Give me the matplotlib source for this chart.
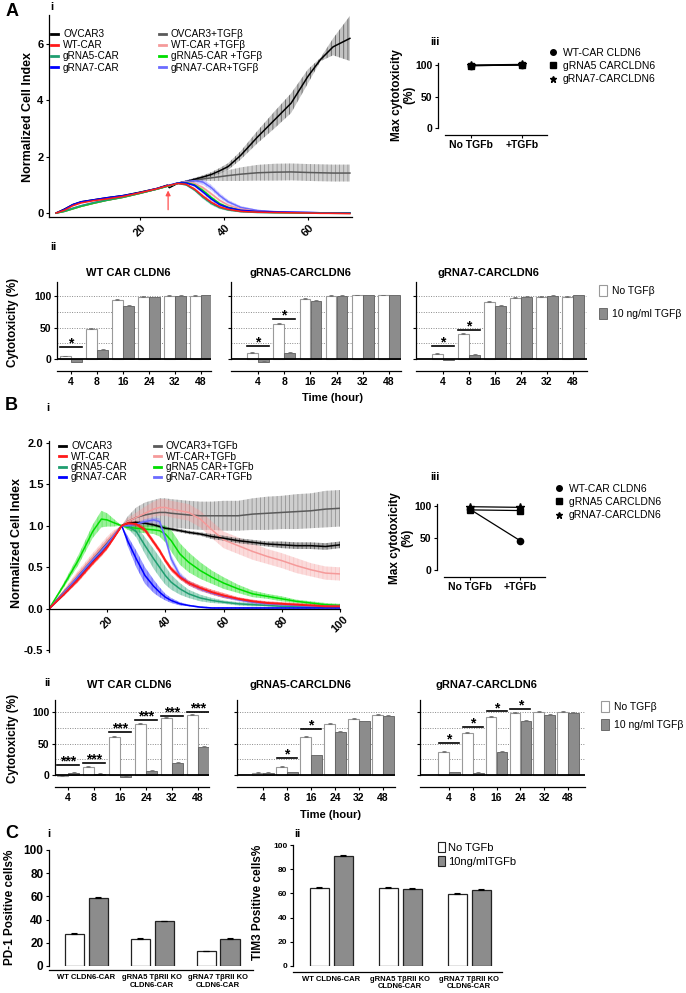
#!/usr/bin/env python3
"""CLDN6 CAR / TGFb cytotoxicity figure (panels A-C)."""

import matplotlib
matplotlib.use("Agg")
import matplotlib.pyplot as plt
from matplotlib.lines import Line2D
from matplotlib.patches import Patch
import numpy as np

plt.rcParams["font.family"] = ["Liberation Sans", "DejaVu Sans"]
plt.rcParams["hatch.linewidth"] = 0.5

W, H = 686, 993

# ---------------- A i : real-time cell index ----------------
a_time = [0, 2, 4, 6, 9, 12, 16, 20, 24, 26.5, 27, 29, 31, 33, 35, 37, 39, 41,
          44, 48, 52, 56, 60, 63, 66, 70]
a_ovcar3 = [0, 0.14, 0.3, 0.4, 0.47, 0.54, 0.62, 0.74, 0.87, 0.99, 0.9, 1.06,
            1.12, 1.2, 1.28, 1.37, 1.5, 1.65, 2.05, 2.7, 3.3, 3.9, 4.85, 5.45,
            5.9, 6.2]
a_ovcar3_err = [0, 0.01, 0.02, 0.02, 0.02, 0.02, 0.02, 0.02, 0.02, 0.02, 0.02,
                0.03, 0.04, 0.05, 0.06, 0.08, 0.1, 0.12, 0.15, 0.22, 0.3, 0.35,
                0.25, 0.06, 0.3, 0.8]
a_ovcar3_tgf = [0, 0.06, 0.15, 0.24, 0.35, 0.45, 0.56, 0.7, 0.85, 0.95, 0.97,
                1.05, 1.1, 1.16, 1.21, 1.25, 1.29, 1.33, 1.38, 1.43, 1.45, 1.46,
                1.44, 1.43, 1.42, 1.42]
a_ovcar3_tgf_err = [0, 0.01, 0.01, 0.01, 0.01, 0.01, 0.01, 0.01, 0.01, 0.01,
                    0.01, 0.02, 0.04, 0.06, 0.08, 0.11, 0.15, 0.19, 0.24, 0.28,
                    0.3, 0.3, 0.3, 0.3, 0.3, 0.3]
a_wt = [0, 0.1, 0.26, 0.36, 0.44, 0.5, 0.59, 0.72, 0.86, 0.97, 0.98, 1.05, 1.02,
        0.85, 0.6, 0.38, 0.22, 0.13, 0.06, 0.03, 0.02, 0.01, 0.0, -0.01, -0.01,
        -0.02]
a_g5 = [0, 0.07, 0.17, 0.26, 0.37, 0.46, 0.57, 0.71, 0.85, 0.96, 0.97, 1.05, 1.0,
        0.82, 0.56, 0.34, 0.19, 0.11, 0.05, 0.02, 0.01, 0.01, 0.0, 0.0, -0.01,
        -0.01]
a_g7 = [0, 0.13, 0.3, 0.4, 0.47, 0.54, 0.62, 0.73, 0.87, 0.98, 0.99, 1.07, 1.07,
        0.98, 0.75, 0.5, 0.3, 0.19, 0.1, 0.06, 0.04, 0.03, 0.02, 0.01, 0.0, 0.0]
a_wt_tgf = [0, 0.06, 0.15, 0.24, 0.35, 0.45, 0.56, 0.7, 0.85, 0.95, 0.97, 1.06,
            1.1, 1.05, 0.9, 0.68, 0.45, 0.28, 0.14, 0.06, 0.03, 0.02, 0.01, 0.0,
            0.0, 0.0]
a_g5_tgf = [0, 0.06, 0.15, 0.24, 0.35, 0.45, 0.56, 0.7, 0.85, 0.95, 0.97, 1.06,
            1.08, 1.0, 0.8, 0.55, 0.33, 0.2, 0.09, 0.04, 0.02, 0.01, 0.0, 0.0,
            0.0, 0.0]
a_g7_tgf = [0, 0.07, 0.17, 0.26, 0.37, 0.46, 0.57, 0.71, 0.85, 0.96, 0.97, 1.06,
            1.12, 1.15, 1.1, 0.9, 0.62, 0.4, 0.2, 0.09, 0.05, 0.03, 0.02, 0.01,
            0.01, 0.0]
a_car_err = [0, 0.01, 0.01, 0.01, 0.01, 0.01, 0.01, 0.01, 0.01, 0.01, 0.01, 0.02,
             0.03, 0.05, 0.06, 0.06, 0.05, 0.04, 0.03, 0.02, 0.01, 0.01, 0.01,
             0.01, 0.01, 0.01]
a_g7_tgf_err = [0, 0.01, 0.01, 0.01, 0.01, 0.01, 0.01, 0.01, 0.01, 0.01, 0.01,
                0.02, 0.05, 0.08, 0.1, 0.1, 0.09, 0.07, 0.05, 0.03, 0.02, 0.01,
                0.01, 0.01, 0.01, 0.01]
a_arrow_time = 26.7

# ---------------- B i ----------------
b_time = [0, 5, 10, 15, 18, 20, 22, 25, 27, 30, 33, 36, 38, 40, 42, 45, 48, 52,
          56, 60, 65, 70, 75, 80, 85, 90, 95, 100]
b_ovcar3 = [0, 0.19, 0.38, 0.57, 0.68, 0.76, 0.85, 1.0, 1.03, 1.04, 1.03, 1.01,
            0.99, 0.97, 0.96, 0.94, 0.92, 0.9, 0.87, 0.85, 0.82, 0.8, 0.78, 0.77,
            0.76, 0.76, 0.75, 0.77]
b_ovcar3_err = [0, 0.01, 0.01, 0.01, 0.01, 0.01, 0.01, 0.01, 0.01, 0.02, 0.02,
                0.02, 0.02, 0.02, 0.02, 0.02, 0.02, 0.02, 0.03, 0.03, 0.03, 0.03,
                0.03, 0.04, 0.04, 0.04, 0.04, 0.04]
b_ovcar3_tgf = [0, 0.2, 0.4, 0.6, 0.72, 0.8, 0.88, 1.0, 1.05, 1.1, 1.13, 1.15,
                1.16, 1.16, 1.15, 1.14, 1.13, 1.12, 1.12, 1.12, 1.12, 1.14, 1.15,
                1.16, 1.17, 1.18, 1.2, 1.21]
b_ovcar3_tgf_err = [0, 0.02, 0.03, 0.04, 0.04, 0.04, 0.03, 0.0, 0.06, 0.12, 0.15,
                    0.16, 0.17, 0.17, 0.17, 0.17, 0.17, 0.17, 0.17, 0.18, 0.18,
                    0.19, 0.2, 0.2, 0.21, 0.21, 0.22, 0.22]
b_wt = [0, 0.17, 0.35, 0.55, 0.66, 0.74, 0.84, 1.0, 1.03, 1.02, 0.95, 0.8, 0.7,
        0.58, 0.48, 0.38, 0.31, 0.25, 0.2, 0.16, 0.12, 0.09, 0.07, 0.06, 0.05,
        0.04, 0.03, 0.03]
b_wt_err = [0, 0.02, 0.03, 0.03, 0.03, 0.03, 0.02, 0.0, 0.02, 0.03, 0.03, 0.03,
            0.03, 0.03, 0.03, 0.03, 0.03, 0.03, 0.03, 0.03, 0.02, 0.02, 0.02,
            0.02, 0.02, 0.02, 0.02, 0.02]
b_wt_tgf = [0, 0.2, 0.42, 0.62, 0.74, 0.82, 0.9, 1.0, 1.05, 1.1, 1.15, 1.2, 1.22,
            1.22, 1.2, 1.18, 1.16, 1.08, 0.95, 0.83, 0.76, 0.69, 0.63, 0.58,
            0.52, 0.47, 0.43, 0.42]
b_wt_tgf_err = [0, 0.03, 0.04, 0.05, 0.05, 0.05, 0.04, 0.0, 0.04, 0.06, 0.08,
                0.09, 0.1, 0.1, 0.1, 0.1, 0.1, 0.1, 0.1, 0.1, 0.1, 0.1, 0.09,
                0.09, 0.09, 0.08, 0.08, 0.08]
b_g5 = [0, 0.18, 0.37, 0.57, 0.68, 0.76, 0.86, 1.0, 1.0, 0.93, 0.76, 0.6, 0.5,
        0.4, 0.32, 0.24, 0.18, 0.13, 0.1, 0.08, 0.06, 0.05, 0.04, 0.03, 0.03,
        0.02, 0.02, 0.02]
b_g5_err = [0, 0.02, 0.02, 0.02, 0.02, 0.02, 0.02, 0.0, 0.03, 0.07, 0.1, 0.12,
            0.12, 0.11, 0.09, 0.07, 0.05, 0.04, 0.03, 0.02, 0.02, 0.02, 0.01,
            0.01, 0.01, 0.01, 0.01, 0.01]
b_g7 = [0, 0.17, 0.36, 0.56, 0.67, 0.75, 0.85, 1.0, 0.82, 0.6, 0.4, 0.27, 0.2,
        0.14, 0.1, 0.06, 0.04, 0.02, 0.01, 0.01, 0.01, 0.01, 0.01, 0.01, 0.01,
        0.01, 0.01, 0.01]
b_g7_err = [0, 0.01, 0.01, 0.01, 0.01, 0.01, 0.01, 0.0, 0.06, 0.1, 0.1, 0.08,
            0.06, 0.04, 0.03, 0.02, 0.01, 0.01, 0.01, 0.01, 0.01, 0.01, 0.01,
            0.01, 0.01, 0.01, 0.01, 0.01]
b_g5_tgf = [0, 0.28, 0.58, 0.93, 1.08, 1.07, 1.04, 1.0, 0.98, 0.97, 0.96, 0.95,
            0.94, 0.9, 0.82, 0.66, 0.56, 0.46, 0.38, 0.31, 0.24, 0.18, 0.15,
            0.12, 0.09, 0.07, 0.05, 0.04]
b_g5_tgf_err = [0, 0.03, 0.06, 0.08, 0.1, 0.08, 0.05, 0.0, 0.03, 0.05, 0.05,
                0.05, 0.07, 0.1, 0.13, 0.13, 0.12, 0.1, 0.08, 0.07, 0.05, 0.04,
                0.03, 0.03, 0.02, 0.02, 0.02, 0.02]
b_g7_tgf = [0, 0.19, 0.39, 0.59, 0.7, 0.78, 0.87, 1.0, 1.0, 1.02, 1.05, 1.07,
            1.05, 0.85, 0.6, 0.4, 0.31, 0.24, 0.19, 0.15, 0.11, 0.08, 0.06, 0.05,
            0.04, 0.03, 0.03, 0.03]
b_g7_tgf_err = [0, 0.02, 0.02, 0.02, 0.02, 0.02, 0.02, 0.0, 0.02, 0.02, 0.03,
                0.03, 0.04, 0.05, 0.05, 0.04, 0.03, 0.03, 0.02, 0.02, 0.02, 0.02,
                0.02, 0.02, 0.02, 0.02, 0.02, 0.02]

# ---------------- iii : max cytotoxicity ----------------
max_cond = ["No TGFb", "+TGFb"]
a3_wt = [100, 101]
a3_g5 = [99, 100]
a3_g7 = [99, 100]
b3_wt = [95, 46]
b3_g5 = [94, 93]
b3_g7 = [99, 98]
max_labels = ["WT-CAR CLDN6", "gRNA5 CARCLDN6", "gRNA7-CARCLDN6"]

# ---------------- ii : cytotoxicity over time ----------------
hours = ["4", "8", "16", "24", "32", "48"]
cyto_titles = ["WT CAR CLDN6", "gRNA5-CARCLDN6", "gRNA7-CARCLDN6"]
a2_white = [[4, 48, 94, 99, 100, 100],
            [10, 55, 95, 100, 101, 101],
            [8, 39, 91, 97, 99, 99]]
a2_grey = [[-5, 15, 84, 98, 100, 101],
           [-4, 10, 92, 100, 101, 101],
           [-1, 6, 84, 99, 100, 101]]
a2_err = [1.0, 1.5, 1.5, 1.0, 1.0, 1.0]
a2_stars = [[(0, 19, "*")],
            [(0, 21, "*"), (1, 63, "*")],
            [(0, 21, "*"), (1, 46, "*")]]
b2_white = [[-1, 13, 61, 81, 90, 95],
            [3, 13, 60, 81, 89, 96],
            [37, 66, 92, 98, 100, 100]]
b2_grey = [[3, 2, -3, 6, 19, 45],
           [3, 4, 31, 68, 85, 93],
           [4, 3, 37, 86, 95, 98]]
b2_err = [1.5, 1.5, 1.5, 1.5, 1.5, 1.5]
b2_stars = [[(0, 16, "***"), (1, 19, "***"), (2, 68, "***"), (3, 87, "***"),
             (4, 94, "***"), (5, 100, "***")],
            [(1, 27, "*"), (2, 73, "*")],
            [(0, 51, "*"), (1, 76, "*"), (2, 101, "*"), (3, 105, "*")]]
tgf_labels = ["No TGF\u03b2", "10 ng/ml TGF\u03b2"]

# ---------------- C : exhaustion markers ----------------
c_groups = ["WT CLDN6-CAR", "gRNA5 T\u03b2RII KO\nCLDN6-CAR",
            "gRNA7 T\u03b2RII KO\nCLDN6-CAR"]
c1_white = [27.5, 23.2, 12.9]
c1_grey = [58.3, 38.6, 23.0]
c1_white_err = [0.8, 0.6, 0.4]
c1_grey_err = [0.8, 0.6, 0.8]
c2_white = [64.5, 64.5, 59.5]
c2_grey = [91.0, 63.5, 62.8]
c2_white_err = [0.6, 0.8, 0.5]
c2_grey_err = [1.0, 1.0, 0.5]
c_legend = ["No TGFb", "10ng/mlTGFb"]

WHITE_EDGE = "#9a9a9a"
GREY_FACE = "#8c8c8c"
GREY_EDGE = "#5e5e5e"

fig = plt.figure(figsize=(W / 100, H / 100), dpi=100)


def add_ax(left, top, right, bottom):
    return fig.add_axes([left / W, 1 - bottom / H, (right - left) / W,
                         (bottom - top) / H])


def ftext(x, y, s, size=8, weight="bold", **kw):
    kw.setdefault("ha", "left")
    kw.setdefault("va", "center")
    fig.text(x / W, 1 - y / H, s, fontsize=size, fontweight=weight, **kw)


def clean(ax):
    ax.spines["top"].set_visible(False)
    ax.spines["right"].set_visible(False)
    for s in ("left", "bottom"):
        ax.spines[s].set_linewidth(0.9)
    ax.tick_params(length=2.5, width=0.8, pad=1.5)


def series(ax, t, mean, err, color, band, lw=1.1, alpha=0.45):
    m = np.asarray(mean, float)
    e = np.asarray(err, float)
    ax.fill_between(t, m - e, m + e, facecolor=band, edgecolor=color,
                    hatch="||||", linewidth=0, alpha=alpha)
    ax.plot(t, m, color=color, lw=lw)
    return Line2D([], [], color=color, lw=2)


TEAL = "#1f9e70"
GREEN = "#00dd00"
BLUE = "#0000ff"
LBLUE = "#6b6bff"
RED = "#ff1a1a"
PINK = "#f59a9a"
GRAY = "#5a5a5a"

# ================= A i =================
ax = add_ax(49, 15, 352, 217)
clean(ax)
ax.set_xlim(-1.67, 70.5)
ax.set_ylim(-0.14, 7.03)
h_ovt = series(ax, a_time, a_ovcar3_tgf, a_ovcar3_tgf_err, GRAY, "#b0b0b0", alpha=0.6)
h_ov = series(ax, a_time, a_ovcar3, a_ovcar3_err, "black", "#9a9a9a", alpha=0.6)
h_g7t = series(ax, a_time, a_g7_tgf, a_g7_tgf_err, LBLUE, LBLUE, alpha=0.3)
h_wtt = series(ax, a_time, a_wt_tgf, a_car_err, PINK, PINK, alpha=0.3)
h_g5t = series(ax, a_time, a_g5_tgf, a_car_err, GREEN, GREEN, alpha=0.3)
h_g7 = series(ax, a_time, a_g7, a_car_err, BLUE, BLUE, alpha=0.3)
h_g5 = series(ax, a_time, a_g5, a_car_err, TEAL, TEAL, alpha=0.3)
h_wt = series(ax, a_time, a_wt, a_car_err, RED, RED, alpha=0.3)
ax.annotate("", xy=(a_arrow_time, 0.9), xytext=(a_arrow_time, 0.02),
            arrowprops=dict(arrowstyle="-|>", color="#ff5050", lw=0.9,
                            mutation_scale=7))
ax.set_xticks([20, 40, 60], ["20", "40", "60"], rotation=45, fontsize=8,
              fontweight="bold")
ax.set_yticks([0, 2, 4, 6], ["0", "2", "4", "6"], fontsize=8, fontweight="bold")
ax.legend([h_ov, h_wt, h_g5, h_g7, h_ovt, h_wtt, h_g5t, h_g7t],
          ["OVCAR3", "WT-CAR", "gRNA5-CAR", "gRNA7-CAR", "OVCAR3+TGF\u03b2",
           "WT-CAR +TGF\u03b2", "gRNA5-CAR +TGF\u03b2", "gRNA7-CAR+TGF\u03b2"],
          ncol=2, loc="upper left", bbox_to_anchor=(51 / W, 1 - 29 / H),
          bbox_transform=fig.transFigure, frameon=False, fontsize=7.2,
          handlelength=0.7, handletextpad=0.5, columnspacing=3.9,
          labelspacing=0.12, borderpad=0, borderaxespad=0)
ftext(28, 117, "Normalized Cell Index", size=9, rotation=90, ha="center")

# ================= B i =================
ax = add_ax(49, 441, 340, 652)
clean(ax)
ax.set_xlim(0, 100)
ax.set_ylim(-0.52, 2.02)
ax.spines["bottom"].set_position(("data", 0))
h_ovt = series(ax, b_time, b_ovcar3_tgf, b_ovcar3_tgf_err, GRAY, "#b0b0b0", alpha=0.6)
h_wtt = series(ax, b_time, b_wt_tgf, b_wt_tgf_err, PINK, PINK, alpha=0.35)
h_ov = series(ax, b_time, b_ovcar3, b_ovcar3_err, "black", "#777777", alpha=0.6)
h_g5t = series(ax, b_time, b_g5_tgf, b_g5_tgf_err, GREEN, GREEN, alpha=0.4)
h_g5 = series(ax, b_time, b_g5, b_g5_err, TEAL, TEAL, alpha=0.4)
h_g7 = series(ax, b_time, b_g7, b_g7_err, BLUE, BLUE, alpha=0.4)
h_g7t = series(ax, b_time, b_g7_tgf, b_g7_tgf_err, LBLUE, LBLUE, alpha=0.3)
h_wt = series(ax, b_time, b_wt, b_wt_err, RED, RED, lw=1.4, alpha=0.45)
ax.set_xticks([20, 40, 60, 80, 100], ["20", "40", "60", "80", "100"],
              rotation=45, fontsize=8, fontweight="bold")
yt = [-0.5, 0.0, 0.5, 1.0, 1.5, 2.0]
ax.set_yticks(yt, [f"{v:.1f}" for v in yt], fontsize=8, fontweight="bold")
ax.legend([h_ov, h_wt, h_g5, h_g7, h_ovt, h_wtt, h_g5t, h_g7t],
          ["OVCAR3", "WT-CAR", "gRNA5-CAR", "gRNA7-CAR", "OVCAR3+TGFb",
           "WT-CAR+TGFb", "gRNA5 CAR+TGFb", "gRNa7-CAR+TGFb"],
          ncol=2, loc="upper left", bbox_to_anchor=(59 / W, 1 - 441 / H),
          bbox_transform=fig.transFigure, frameon=False, fontsize=7.2,
          handlelength=0.7, handletextpad=0.5, columnspacing=2.6,
          labelspacing=0.05, borderpad=0, borderaxespad=0)
ftext(17, 543, "Normalized Cell Index", size=9, rotation=90, ha="center")


# ================= iii panels =================
def max_panel(left, top, right, zero, c0, c1, vals, leg_xy):
    scale = (zero - top) / 104.8
    ax = add_ax(left, top, right, zero)
    clean(ax)
    step = c1 - c0
    ax.set_xlim((left - c0) / step, (right - c0) / step)
    ax.set_ylim(0, (zero - top) / scale)
    handles = []
    for v, m in zip(vals, ["o", "s", "*"]):
        ax.plot([0, 1], v, color="black", lw=0.9, marker=m,
                ms=6 if m == "*" else 4.5, clip_on=False)
        handles.append(Line2D([], [], color="black", marker=m, ls="none",
                              ms=5 if m == "*" else 4))
    ax.spines["left"].set_bounds(0, 104)
    ax.spines["bottom"].set_position(("outward", 5))
    ax.spines["bottom"].set_bounds((left + 7 - c0) / step, (right - c0) / step)
    ax.set_yticks([0, 50, 100], ["0", "50", "100"], fontsize=7.5,
                  fontweight="bold")
    ax.set_xticks([0, 1], max_cond, fontsize=7.5, fontweight="bold")
    fig.legend(handles, max_labels, loc="upper left",
               bbox_to_anchor=(leg_xy[0] / W, 1 - leg_xy[1] / H),
               frameon=False, fontsize=7.5, handlelength=0.8,
               handletextpad=0.5, labelspacing=0.3, borderpad=0,
               borderaxespad=0)


max_panel(438, 62, 547, 128, 471, 522, [a3_g7, a3_g5, a3_wt], (549, 48))
ftext(403, 95, "Max cytotoxicity\n(%)", size=8.5, rotation=90, ha="center",
      multialignment="center", linespacing=1.1)
max_panel(437, 503, 545, 570, 470, 520, [b3_wt, b3_g5, b3_g7], (555, 484))
ftext(401, 538, "Max cytotoxicity\n(%)", size=8.5, rotation=90, ha="center",
      multialignment="center", linespacing=1.1)


# ================= ii panels =================
def cyto_panel(left, top, right, zero, c0, step, white, grey, err, stars,
               show_y):
    scale = 0.63
    bottom = zero + 8
    ax = add_ax(left, top, right, bottom)
    clean(ax)
    idx = np.arange(len(white))
    ax.set_xlim((left - c0) / step, (right - c0) / step)
    ymax = (zero - top) / scale
    ax.set_ylim(-(bottom - zero) / scale, ymax)
    bw = 10.5 / step
    for lv in (25, 50, 75, 100):
        ax.axhline(lv, color="#8a8a8a", lw=0.7, ls=(0, (1, 1.5)), zorder=0)
    ekw = dict(ecolor="#707070", elinewidth=0.6, capsize=1.5, capthick=0.6)
    zeros = np.zeros(len(err))
    ax.bar(idx - bw / 2 - 0.01, white, bw, color="white", edgecolor=WHITE_EDGE,
           lw=0.8, zorder=2, yerr=[zeros, err], error_kw=ekw)
    ax.bar(idx + bw / 2 + 0.01, grey, bw, color=GREY_FACE, edgecolor=GREY_EDGE,
           lw=0.6, zorder=2, yerr=[zeros, err], error_kw=ekw)
    ax.axhline(0, color="black", lw=1.3, zorder=3)
    for k, h, s in stars:
        ax.plot([k - 0.42, k + 0.42], [h, h], color="black", lw=1.2, zorder=4)
        ax.text(k, h - 1, s, ha="center", va="baseline", fontsize=10,
                fontweight="bold")
    ax.spines["left"].set_bounds(0, ymax)
    ax.spines["bottom"].set_position(("outward", 3))
    ax.set_yticks([0, 50, 100], ["0", "50", "100"] if show_y else ["", "", ""],
                  fontsize=7.5, fontweight="bold")
    ax.set_xticks(idx, hours, fontsize=7.5, fontweight="bold")


a2_geom = [(57, 211, 71, 26.0), (231, 401, 258, 26.2), (416, 587, 443, 26.0)]
for i, (l, r, c0, st) in enumerate(a2_geom):
    cyto_panel(l, 282, r, 359, c0, st, a2_white[i], a2_grey[i], a2_err,
               a2_stars[i], i == 0)
for x, s in zip([128, 300, 488], cyto_titles):
    ftext(x, 273, s, size=8, ha="center")
ftext(13, 322, "Cytotoxicity (%)", size=8.5, rotation=90, ha="center")
ftext(333, 398, "Time (hour)", size=8, ha="center")

b2_geom = [(55, 209, 68, 26.0), (237, 395, 263, 24.0), (420, 585, 449, 23.8)]
for i, (l, r, c0, st) in enumerate(b2_geom):
    cyto_panel(l, 700, r, 775, c0, st, b2_white[i], b2_grey[i], b2_err,
               b2_stars[i], i == 0)
for x, s in zip([129, 300, 486], cyto_titles):
    ftext(x, 685, s, size=8, ha="center")
ftext(13, 738, "Cytotoxicity (%)", size=8.5, rotation=90, ha="center")
ftext(331, 815, "Time (hour)", size=8, ha="center")

bar_handles = [Patch(facecolor="white", edgecolor=WHITE_EDGE, lw=0.8),
               Patch(facecolor=GREY_FACE, edgecolor=GREY_EDGE, lw=0.6)]
fig.legend(bar_handles, tgf_labels, loc="upper left",
           bbox_to_anchor=(599 / W, 1 - 285 / H), frameon=False, fontsize=7.5,
           handlelength=0.8, handleheight=1.3, handletextpad=0.4,
           labelspacing=1.1, borderpad=0, borderaxespad=0)
fig.legend(bar_handles, tgf_labels, loc="upper left",
           bbox_to_anchor=(601 / W, 1 - 701 / H), frameon=False, fontsize=7.5,
           handlelength=0.8, handleheight=1.3, handletextpad=0.4,
           labelspacing=0.6, borderpad=0, borderaxespad=0)


# ================= C panels =================
def marker_panel(left, top, right, zero, c0, step, white, grey, werr, gerr,
                 scale, ytick_size, xaxis_gap):
    ax = add_ax(left, top, right, zero)
    clean(ax)
    idx = np.arange(len(white))
    ax.set_xlim((left - c0) / step, (right - c0) / step)
    ax.set_ylim(0, (zero - top) / scale)
    bw = 19 / step
    off = 12 / step
    ekw = dict(ecolor="black", elinewidth=0.8, capsize=2, capthick=0.8)
    z = np.zeros(len(white))
    ax.bar(idx - off, white, bw, color="white", edgecolor="#222222", lw=0.9,
           yerr=[z, werr], error_kw=ekw)
    ax.bar(idx + off, grey, bw, color=GREY_FACE, edgecolor="#222222", lw=0.9,
           yerr=[z, gerr], error_kw=ekw)
    ax.spines["left"].set_bounds(0, 100)
    ax.spines["bottom"].set_position(("outward", xaxis_gap))
    ax.set_yticks(range(0, 101, 20), [str(v) for v in range(0, 101, 20)],
                  fontsize=ytick_size, fontweight="bold")
    ax.set_xticks(idx, c_groups, fontsize=5.5, fontweight="bold",
                  linespacing=1.05)
    ax.tick_params(axis="x", length=0, pad=3)
    return ax


marker_panel(49, 848, 253, 966, 86, 66, c1_white, c1_grey, c1_white_err,
             c1_grey_err, 1.16, 8.5, 3)
ftext(10, 907, "PD-1 Positive cells%", size=8.5, rotation=90, ha="center")
marker_panel(293, 843, 502, 966, 331, 69, c2_white, c2_grey, c2_white_err,
             c2_grey_err, 1.21, 6, 4.3)
ftext(258, 902, "TIM3 Positive cells%", size=8.5, rotation=90, ha="center")
c_handles = [Patch(facecolor="white", edgecolor="#222222", lw=0.8),
             Patch(facecolor=GREY_FACE, edgecolor="#222222", lw=0.8)]
fig.legend(c_handles, c_legend, loc="upper left",
           bbox_to_anchor=(438 / W, 1 - 842 / H), frameon=False, fontsize=8,
           handlelength=0.6, handleheight=1.0, handletextpad=0.3,
           labelspacing=0.3, borderpad=0, borderaxespad=0)

# ================= panel letters =================
ftext(6, 11, "A", size=13)
ftext(50, 7, "i", size=8)
ftext(50, 247, "ii", size=8)
ftext(430, 42, "iii", size=8)
ftext(5, 405, "B", size=13)
ftext(46, 408, "i", size=8)
ftext(44, 683, "ii", size=8)
ftext(430, 477, "iii", size=8)
ftext(5, 833, "C", size=13)
ftext(47, 834, "i", size=8)
ftext(294, 834, "ii", size=8)

fig.savefig("out.png", dpi=100)
